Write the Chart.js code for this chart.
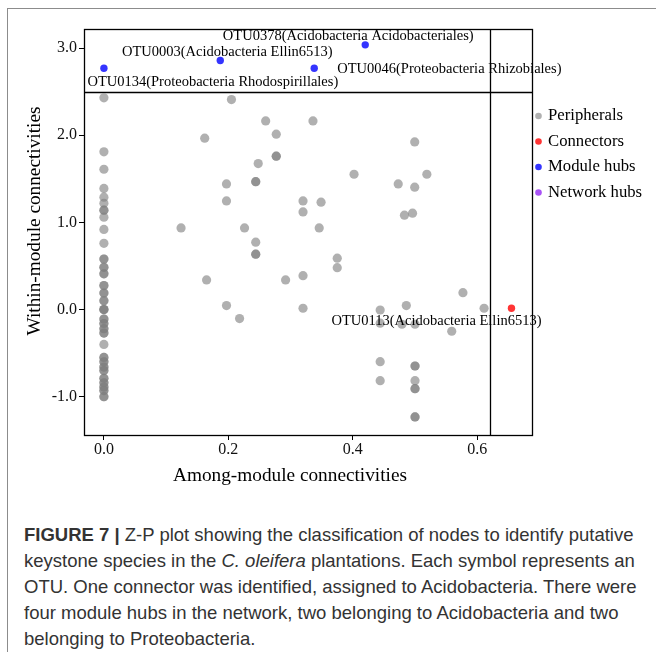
<!DOCTYPE html>
<html><head><meta charset="utf-8">
<script src="https://cdn.jsdelivr.net/npm/chart.js@4.4.1/dist/chart.umd.min.js"></script>
<style>
html,body{margin:0;padding:0;background:#fff;width:656px;height:652px;overflow:hidden;position:relative;}
#frame{position:absolute;left:7px;top:8px;width:700px;height:700px;border-left:1px solid #8c8c8c;border-top:1px solid #8c8c8c;}
#wrap{position:absolute;left:0;top:0;width:656px;height:500px;}
#cap{position:absolute;left:24px;top:522px;font-family:"Liberation Sans",Arial,sans-serif;font-size:18.5px;line-height:26px;color:#333;white-space:nowrap;}
#cap b{font-weight:bold;}
</style></head>
<body>
<div id="frame"></div>
<div id="wrap"><canvas id="c" width="656" height="500"></canvas></div>
<div id="cap"><b>FIGURE 7 |</b> Z-P plot showing the classification of nodes to identify putative<br>keystone species in the <i>C. oleifera</i> plantations. Each symbol represents an<br>OTU. One connector was identified, assigned to Acidobacteria. There were<br>four module hubs in the network, two belonging to Acidobacteria and two<br>belonging to Proteobacteria.</div>
<script>
// ---- data ----
const seriesNames = ["Peripherals", "Connectors", "Module hubs", "Network hubs"];
const peripheralX = [
  0,0,0,0,0,0,0,0,0,0,0,0,0,0,0,0,0,0,0,0,0,0,0,0,0,0,0,0,0,0,0,0,0,0,0,0,0,0,0,0,0,0,0,0,0,0,0,0,0,0,0,0,0,
  0.205,0.260,0.336,0.162,0.277,0.277,0.277,0.248,0.402,0.197,0.244,0.244,0.197,0.320,0.349,0.320,
  0.124,0.226,0.346,0.244,0.244,0.244,0.375,0.375,0.165,0.292,0.320,0.197,0.320,0.218,
  0.4995,0.519,0.473,0.4995,0.483,0.496,0.577,0.444,0.486,0.611,0.559,0.444,0.479,0.500,
  0.444,0.500,0.500,0.444,0.500,0.500,0.500,0.500,0.500
];
const peripheralY = [
  2.43,1.81,1.61,1.39,1.29,1.22,1.14,1.14,1.06,0.92,0.76,0.58,0.58,0.485,0.485,0.41,0.41,0.275,0.275,0.19,0.19,0.10,0.10,0.0,0.0,0.0,
  -0.11,-0.11,-0.16,-0.16,-0.22,-0.22,-0.27,-0.27,-0.40,-0.55,-0.55,-0.60,-0.60,-0.66,-0.66,-0.70,-0.70,-0.79,-0.79,-0.84,-0.84,-0.89,-0.89,-0.93,-0.93,-1.0,-1.0,
  2.41,2.165,2.165,1.967,2.013,1.76,1.76,1.675,1.553,1.442,1.468,1.468,1.247,1.247,1.232,1.12,
  0.937,0.937,0.937,0.773,0.635,0.635,0.589,0.481,0.34,0.34,0.389,0.045,0.015,-0.104,
  1.924,1.553,1.442,1.404,1.083,1.106,0.194,-0.005,0.045,0.015,-0.249,-0.157,-0.169,-0.169,
  -0.598,-0.648,-0.648,-0.816,-0.816,-0.908,-0.908,-1.233,-1.233
];
const connectorX = [0.655];
const connectorY = [0.015];
const moduleHubX = [0, 0.187, 0.338, 0.42];
const moduleHubY = [2.77, 2.858, 2.77, 3.038];
const networkHubX = [];
const networkHubY = [];
const moduleHubLabels = ["OTU0134(Proteobacteria Rhodospirillales)", "OTU0003(Acidobacteria Ellin6513)", "OTU0046(Proteobacteria Rhizobiales)", "OTU0378(Acidobacteria Acidobacteriales)"];
const connectorLabels = ["OTU0113(Acidobacteria Ellin6513)"];
const xTickValues = [0, 0.2, 0.4, 0.6];
const yTickValues = [-1, 0, 1, 2, 3];
const piThreshold = 0.62;
const ziThreshold = 2.5;
const xTitle = "Among-module connectivities";
const yTitle = "Within-module connectivities";

const toPts = (xs, ys) => xs.map((x, i) => ({x: x, y: ys[i]}));
const SERIF = '"Liberation Serif","Times New Roman",serif';
const colors = ['rgba(128,128,128,0.62)', 'rgba(255,35,35,0.92)', 'rgba(35,35,255,0.92)', 'rgba(160,64,245,0.9)'];
const legendColors = ['rgba(150,150,150,0.75)', 'rgba(255,35,35,0.92)', 'rgba(35,35,255,0.92)', 'rgba(160,64,245,0.9)'];

// label placement styles: [datasetIndex, pointIndex, align, dx, dy]
const labelPlacement = [
  [2, 0, 'left', -16.5, 14],
  [2, 1, 'center', 7, -8.5],
  [2, 2, 'left', 23, 0.5],
  [2, 3, 'center', -17, -9],
  [1, 0, 'center', -75, 13]
];

const decor = {
  id: 'decor',
  beforeDatasetsDraw(chart) {
    const {ctx, chartArea: a, scales: {x, y}} = chart;
    ctx.save();
    ctx.strokeStyle = '#000';
    ctx.lineWidth = 1.3;
    const px = Math.round(x.getPixelForValue(piThreshold)) + 0.5;
    const py = Math.round(y.getPixelForValue(ziThreshold)) + 0.5;
    ctx.beginPath();
    ctx.moveTo(px, a.top); ctx.lineTo(px, a.bottom);
    ctx.moveTo(a.left, py); ctx.lineTo(a.right, py);
    ctx.stroke();
    ctx.strokeRect(a.left + 0.5, a.top + 0.5, a.right - a.left, a.bottom - a.top);
    ctx.restore();
  },
  afterDatasetsDraw(chart) {
    const {ctx} = chart;
    ctx.save();
    ctx.fillStyle = '#000';
    ctx.font = '14.5px ' + SERIF;
    ctx.textBaseline = 'middle';
    const texts = [moduleHubLabels[0], moduleHubLabels[1], moduleHubLabels[2], moduleHubLabels[3], connectorLabels[0]];
    labelPlacement.forEach((p, k) => {
      const el = chart.getDatasetMeta(p[0]).data[p[1]];
      ctx.textAlign = p[2];
      ctx.fillText(texts[k], el.x + p[3], el.y + p[4]);
    });
    ctx.restore();
  },
  afterDraw(chart) {
    const {ctx} = chart;
    ctx.save();
    ctx.fillStyle = '#000';
    ctx.font = '19.3px ' + SERIF;
    ctx.textAlign = 'center';
    ctx.textBaseline = 'middle';
    ctx.fillText(xTitle, 290, 476);
    ctx.translate(35, 221);
    ctx.rotate(-Math.PI / 2);
    ctx.fillText(yTitle, 0, 0);
    ctx.restore();
    // legend
    ctx.save();
    ctx.font = '16.7px ' + SERIF;
    ctx.textAlign = 'left';
    ctx.textBaseline = 'middle';
    chart.data.datasets.forEach((ds, i) => {
      const yy = 116 + i * 25.5;
      ctx.fillStyle = legendColors[i];
      ctx.beginPath();
      ctx.arc(538.5, yy, 3.3, 0, Math.PI * 2);
      ctx.fill();
      ctx.fillStyle = '#000';
      ctx.fillText(ds.label, 548, yy);
    });
    ctx.restore();
  }
};

const tickFont = {family: SERIF, size: 16};
new Chart(document.getElementById('c'), {
  type: 'scatter',
  data: {
    datasets: [
      {label: seriesNames[0], data: toPts(peripheralX, peripheralY), backgroundColor: colors[0], borderWidth: 0, pointRadius: 4.6, pointHoverRadius: 4.6},
      {label: seriesNames[1], data: toPts(connectorX, connectorY), backgroundColor: colors[1], borderWidth: 0, pointRadius: 3.7},
      {label: seriesNames[2], data: toPts(moduleHubX, moduleHubY), backgroundColor: colors[2], borderWidth: 0, pointRadius: 3.7},
      {label: seriesNames[3], data: toPts(networkHubX, networkHubY), backgroundColor: colors[3], borderWidth: 0, pointRadius: 3.7}
    ]
  },
  options: {
    responsive: false,
    animation: false,
    devicePixelRatio: 1,
    layout: {padding: {top: 29, right: 124, left: 0, bottom: 0}},
    plugins: {legend: {display: false}, tooltip: {enabled: false}},
    scales: {
      x: {
        type: 'linear', min: -0.032, max: 0.688,
        afterBuildTicks: s => { s.ticks = xTickValues.map(v => ({value: v})); },
        afterFit: s => { s.height = 65; },
        ticks: {callback: v => Number(v).toFixed(1), font: tickFont, color: '#111', padding: 0, maxRotation: 0, autoSkip: false},
        grid: {display: true, drawOnChartArea: false, drawTicks: true, tickLength: 5, color: '#000', lineWidth: 1},
        border: {display: false}
      },
      y: {
        type: 'linear', min: -1.44, max: 3.22,
        afterBuildTicks: s => { s.ticks = yTickValues.map(v => ({value: v})); },
        afterFit: s => { s.width = 84; },
        ticks: {callback: v => Number(v).toFixed(1), font: tickFont, color: '#111', padding: 2, autoSkip: false},
        grid: {display: true, drawOnChartArea: false, drawTicks: true, tickLength: 5, color: '#000', lineWidth: 1},
        border: {display: false}
      }
    }
  },
  plugins: [decor]
});
</script>
</body></html>
